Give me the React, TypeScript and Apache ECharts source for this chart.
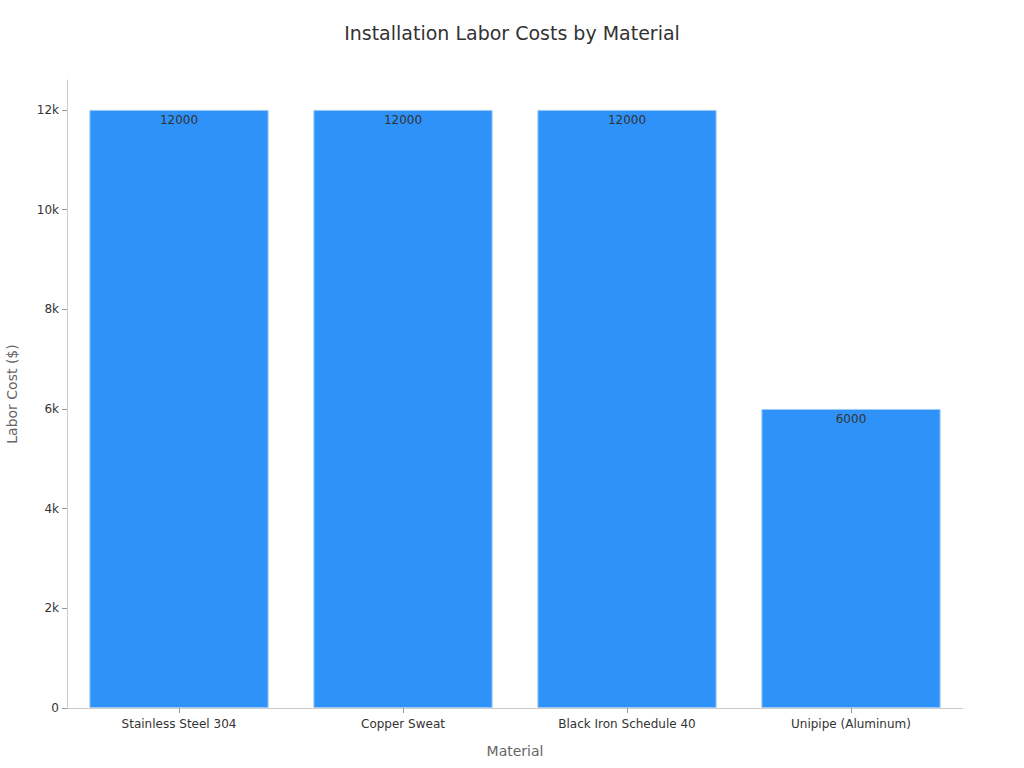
import React, { useEffect, useRef } from "react";
import * as echarts from "echarts";

const categories = ["Stainless Steel 304", "Copper Sweat", "Black Iron Schedule 40", "Unipipe (Aluminum)"];
const laborCosts = [12000, 12000, 12000, 6000];

export default function App() {
  const ref = useRef<HTMLDivElement>(null);
  useEffect(() => {
    document.body.style.margin = "0";
    const chart = echarts.init(ref.current!, null, { renderer: "svg" });
    chart.setOption({
      animation: false,
      textStyle: { fontFamily: "DejaVu Sans" },
      title: {
        text: "Installation Labor Costs by Material",
        left: "center",
        top: 18,
        textStyle: { fontSize: 19, fontWeight: "normal", color: "#333", fontFamily: "DejaVu Sans" },
      },
      grid: { left: 67, right: 61, top: 80, bottom: 60, containLabel: false, outerBoundsMode: "none" },
      xAxis: {
        type: "category",
        data: categories,
        name: "Material",
        nameLocation: "middle",
        nameGap: 36,
        nameTextStyle: { fontSize: 14, color: "#666" },
        axisLine: { lineStyle: { color: "#ccc" } },
        axisTick: { show: true, alignWithLabel: true, length: 5, lineStyle: { color: "#999" } },
        axisLabel: { color: "#333", fontSize: 12, margin: 10 },
      },
      yAxis: {
        type: "value",
        min: 0,
        max: 12600,
        interval: 2000,
        name: "Labor Cost ($)",
        nameLocation: "middle",
        nameGap: 48,
        nameTextStyle: { fontSize: 14, color: "#666" },
        axisLine: { show: true, lineStyle: { color: "#ccc" } },
        axisTick: { show: true, lineStyle: { color: "#999" } },
        splitLine: { show: false },
        axisLabel: {
          color: "#333",
          fontSize: 12,
          formatter: (v: number) => (v === 0 ? "0" : v / 1000 + "k"),
          showMaxLabel: false,
        },
      },
      series: [
        {
          type: "bar",
          data: laborCosts,
          barWidth: "80%",
          itemStyle: { color: "#2f92f8", borderColor: "#9fcaf6", borderWidth: 1 },
          label: { show: true, position: "insideTop", color: "#333", fontSize: 12, distance: 4 },
        },
      ],
    });
    return () => chart.dispose();
  }, []);
  return <div ref={ref} style={{ width: 1024, height: 768 }} />;
}
